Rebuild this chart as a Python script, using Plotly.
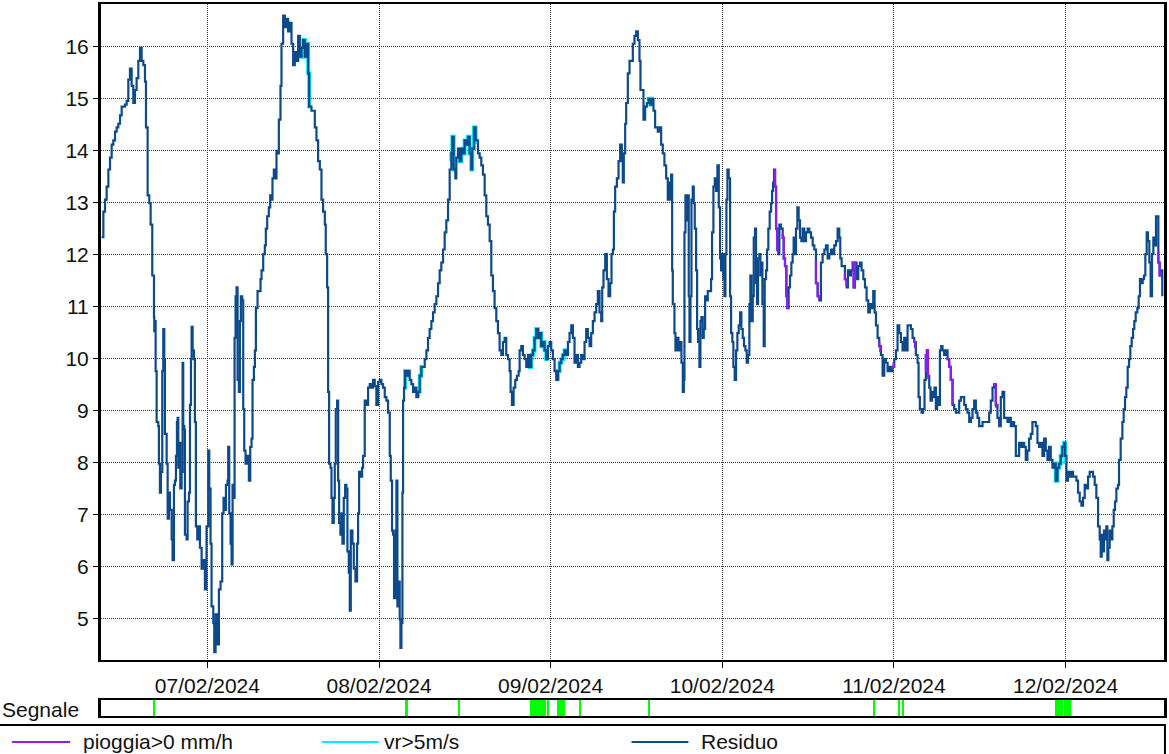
import numpy as np
import pandas as pd
import plotly.graph_objects as go

# ---- data -------------------------------------------------------------
# hours elapsed since 06/02/2024 00:00 and the "Residuo" level at that time
hours = [
    9.21, 9.45, 9.68, 9.91, 10.15, 10.38, 10.61, 10.84, 11.08, 11.31,
    11.54, 11.78, 12.01, 12.47, 12.71, 12.94, 13.17, 13.41, 13.64, 13.87,
    14.10, 14.34, 14.57, 14.80, 15.04, 15.27, 15.41, 15.64, 15.87, 16.06,
    16.29, 16.53, 16.57, 16.67, 16.76, 16.90, 17.13, 17.22, 17.36, 17.50,
    17.69, 17.83, 17.97, 18.06, 18.30, 18.44, 18.62, 18.76, 19.00, 19.13,
    19.32, 19.46, 19.60, 19.74, 19.83, 19.93, 20.07, 20.21, 20.39, 20.53,
    20.62, 20.76, 20.86, 21.09, 21.23, 21.42, 21.56, 21.70, 21.79, 21.93,
    22.11, 22.25, 22.39, 22.58, 22.72, 22.95, 23.19, 23.42, 23.65, 23.88,
    24.12, 24.26, 24.44, 24.58, 24.82, 24.96, 25.14, 25.37, 25.61, 25.84,
    26.07, 26.26, 26.45, 26.59, 26.82, 26.91, 27.05, 27.24, 27.38, 27.52,
    27.70, 27.80, 27.94, 28.08, 28.22, 28.40, 28.54, 28.68, 28.87, 29.01,
    29.15, 29.33, 29.57, 29.80, 29.99, 30.17, 30.31, 30.50, 30.64, 30.78,
    31.01, 31.24, 31.43, 31.57, 31.80, 32.03, 32.17, 32.36, 32.59, 32.78,
    32.96, 33.10, 33.29, 33.52, 33.66, 33.80, 33.99, 34.22, 34.36, 34.59,
    34.83, 35.06, 35.29, 35.53, 35.76, 35.99,
    36.22, 36.46, 36.69, 36.92, 37.16, 37.39, 37.62, 37.85, 38.09, 38.23,
    38.55, 38.79, 39.02, 39.25, 39.48, 39.72, 39.95, 40.18, 40.42, 40.55,
    40.74, 40.88, 41.02, 41.21, 41.35, 41.49, 41.67, 41.81, 41.95, 42.14,
    42.28, 42.42, 42.60, 42.74, 42.88, 43.07, 43.26, 43.44, 43.58, 43.77,
    43.91, 44.05, 44.28, 44.47, 44.70, 44.93, 45.07, 45.21, 45.40, 45.63,
    45.77, 46.00, 46.24, 46.47, 46.70, 46.93, 47.17, 47.40, 47.63, 47.87,
    48.10, 48.33, 48.56, 48.80, 49.03, 49.26, 49.50, 49.64, 49.82, 49.96,
    50.10, 50.29, 50.43, 50.57, 50.75, 50.89, 50.99, 51.13, 51.27, 51.36,
    51.50, 51.64, 51.82, 52.06, 52.29, 52.52, 52.76, 52.99, 53.22, 53.45,
    53.69, 53.92, 54.15, 54.39, 54.62, 54.85, 55.08, 55.32, 55.55, 55.78,
    56.02, 56.25, 56.48, 56.71, 56.95, 57.18, 57.41, 57.65, 57.88, 58.11,
    58.25, 58.44, 58.67, 58.81, 59.04, 59.27, 59.51, 59.74, 59.97, 60.21,
    60.44, 60.67, 60.90, 61.04, 61.28, 61.51, 61.84,
    62.07, 62.30, 62.53, 62.77, 63.00, 63.23, 63.47, 63.70, 63.93, 64.16,
    64.40, 64.63, 64.86, 65.10, 65.33, 65.56, 65.79, 66.03, 66.26, 66.40,
    66.59, 66.82, 67.05, 67.28, 67.52, 67.66, 67.89, 68.12, 68.36, 68.59,
    68.82, 69.05, 69.29, 69.52, 69.75, 69.99, 70.22, 70.45, 70.68, 70.92,
    71.15, 71.38, 71.62, 71.85, 72.08, 72.31, 72.55, 72.78, 73.01, 73.25,
    73.48, 73.71, 73.94, 74.18, 74.41, 74.64, 74.88, 75.11, 75.34, 75.57,
    75.81, 76.04, 76.27, 76.51, 76.74, 76.97, 77.20, 77.44, 77.67, 77.90,
    78.14, 78.37, 78.60, 78.83, 79.07, 79.21, 79.39, 79.63, 79.86, 80.09,
    80.32, 80.51, 80.70, 80.84, 81.02, 81.26, 81.49, 81.72, 81.95, 82.09,
    82.23, 82.42, 82.56, 82.79, 83.03, 83.26, 83.49, 83.72, 83.96, 84.19,
    84.42, 84.56, 84.80, 84.98, 85.21, 85.45, 85.68, 85.91, 86.15, 86.38,
    86.61, 86.98,
    87.22, 87.45, 87.68, 87.91, 88.15, 88.38, 88.52, 88.71, 88.85, 88.99,
    89.08, 89.31, 89.45, 89.64, 89.87, 90.10, 90.29, 90.48, 90.62, 90.71,
    90.85, 91.03, 91.17, 91.31, 91.41, 91.55, 91.69, 91.87, 92.01, 92.15,
    92.34, 92.48, 92.62, 92.80, 92.94, 93.08, 93.27, 93.41, 93.60, 93.74,
    93.97, 94.20, 94.43, 94.57, 94.76, 94.95, 95.13, 95.32, 95.51, 95.69,
    95.83, 95.97, 96.16, 96.30, 96.44, 96.58, 96.72, 96.90, 97.09, 97.23,
    97.41, 97.55, 97.74, 97.93, 98.11, 98.30, 98.49, 98.67, 98.86, 99.04,
    99.23, 99.42, 99.60, 99.79, 99.93, 100.07, 100.26, 100.40, 100.58, 100.72,
    100.86, 101.00, 101.19, 101.33, 101.47, 101.61, 101.79, 101.93, 102.12, 102.26,
    102.44, 102.63, 102.82, 102.96, 103.10, 103.24, 103.38, 103.52, 103.66, 103.84,
    103.98, 104.21, 104.45, 104.59, 104.77, 104.96, 105.10, 105.28, 105.47, 105.66,
    105.84, 105.98, 106.17, 106.31, 106.50, 106.68, 106.87, 107.06, 107.24, 107.47,
    107.71, 107.94, 108.17, 108.41, 108.64, 108.87, 109.10, 109.34, 109.57, 109.80,
    110.03, 110.27, 110.50, 110.73, 110.97, 111.20, 111.43, 111.66, 111.90, 112.13,
    112.36, 112.50, 112.69, 112.92, 113.15, 113.39, 113.57, 113.76, 113.99, 114.23,
    114.37, 114.55, 114.78, 115.02, 115.25, 115.48, 115.72, 115.95, 116.18, 116.41,
    116.65, 116.88, 117.11, 117.30, 117.49, 117.72, 117.95, 118.18, 118.42, 118.65,
    118.88, 119.12, 119.35, 119.58, 119.81, 120.05, 120.28, 120.51, 120.75, 120.98,
    121.21, 121.44, 121.68, 121.91, 122.14, 122.38, 122.61, 122.84, 123.07, 123.31,
    123.45, 123.63, 123.87, 124.10, 124.28, 124.47, 124.61, 124.75, 124.94, 125.12,
    125.31, 125.50, 125.68, 125.87, 126.05, 126.24, 126.43, 126.61, 126.80, 127.03,
    127.26, 127.50, 127.73, 127.96, 128.20, 128.43, 128.66, 128.89, 129.13, 129.36,
    129.59, 129.83, 130.06, 130.29, 130.53, 130.76, 130.99, 131.22, 131.46, 131.69,
    131.92, 132.16, 132.39, 132.62, 132.85, 133.09, 133.32, 133.55, 133.79, 134.02,
    134.25, 134.48, 134.72, 134.95, 135.18, 135.42, 135.65, 135.88, 136.11, 136.35,
    136.58, 136.81, 137.05, 137.28,
    137.51, 137.74, 137.97, 138.21, 138.44, 138.67, 138.91, 139.14, 139.37, 139.61,
    139.84, 140.07, 140.30, 140.54, 140.77, 141.00, 141.24, 141.47, 141.70, 141.93,
    142.17, 142.40, 142.63, 142.87, 143.10, 143.33, 143.56, 143.80, 143.94, 144.12,
    144.35, 144.59, 144.82, 145.05, 145.29, 145.52, 145.75, 145.98, 146.22, 146.45,
    146.68, 146.92, 147.15, 147.38, 147.61, 147.85, 148.08, 148.31, 148.55, 148.78,
    148.92, 149.06, 149.25, 149.38, 149.52, 149.71, 149.85, 149.99, 150.18, 150.36,
    150.55, 150.74, 150.92, 151.11, 151.34, 151.48, 151.71, 151.95, 152.13, 152.32,
    152.50, 152.69, 152.88, 153.06, 153.25, 153.44, 153.62, 153.81, 154.04, 154.23,
    154.41, 154.60, 154.79, 154.97, 155.16, 155.35, 155.53, 155.72, 155.90, 156.09,
    156.28, 156.46, 156.65, 156.84, 156.98, 157.16, 157.39, 157.53,
]

level = [
    12.34, 12.83, 13.06, 13.31, 13.64, 13.87, 14.12, 14.2, 14.37, 14.45,
    14.52, 14.68, 14.85, 14.89, 14.96, 15.37, 15.58, 15.25, 14.92, 15.17,
    15.4, 15.73, 15.98, 15.73, 15.65, 15.33, 14.45, 13.14, 12.99, 12.58,
    11.6, 10.8, 10.53, 10.72, 9.76, 8.78, 8.7, 7.98, 7.42, 7.82,
    9.76, 10.57, 9.99, 8.55, 7.98, 6.92, 7.42, 7.09, 6.52, 6.12,
    7.57, 7.65, 8.13, 8.78, 8.86, 7.9, 8.38, 7.5, 7.82, 9.92,
    8.7, 8.63, 6.61, 6.52, 7.25, 7.42, 9.11, 9.99, 10.61, 10.16,
    9.99, 8.78, 6.77, 6.52, 6.77, 6.36, 5.96, 6.12, 5.56, 6.77,
    8.23, 7.5, 6.44, 5.23, 4.91, 4.35, 5.08, 4.5, 5.56, 5.71,
    7.02, 7.32, 7.09, 7.57, 7.65, 8.3, 7.02, 6.44, 6.04, 7.57,
    7.32, 10.4, 11.2, 11.37, 9.59, 9.36, 10.72, 11.2, 11.12, 9.03,
    8.23, 7.98, 8.13, 7.65, 8.3, 8.46, 9.59, 9.84, 10.16, 10.97,
    11.3, 11.3, 11.53, 11.7, 12.01, 12.18, 12.5, 12.74, 12.91, 13.14,
    13.06, 13.47, 13.64, 13.47, 14.0, 13.95, 14.6, 15.25, 16.06, 16.6,
    16.38, 16.54, 16.3, 16.46, 16.06, 15.65,
    15.9, 15.73, 16.21, 15.81, 15.98, 16.13, 15.81, 16.06, 15.49, 14.85,
    14.77, 14.77, 14.45, 14.2, 13.8, 13.64, 13.06, 12.83, 12.58, 12.01,
    11.37, 9.36, 7.98, 7.9, 7.32, 6.84, 7.32, 7.98, 9.03, 9.19,
    7.65, 6.84, 6.61, 7.02, 6.44, 7.32, 7.57, 7.5, 6.29, 5.88,
    5.15, 6.69, 6.44, 5.96, 5.71, 6.44, 7.02, 7.82, 7.73, 7.9,
    8.13, 9.19, 9.11, 9.44, 9.51, 9.44, 9.59, 9.47, 9.11, 9.55,
    9.59, 9.51, 9.44, 9.26, 9.19, 8.96, 8.13, 7.65, 6.69, 6.61,
    5.39, 6.69, 7.65, 5.23, 5.71, 4.98, 4.43, 4.91, 7.42, 9.19,
    9.44, 9.76, 9.67, 9.76, 9.59, 9.51, 9.36, 9.44, 9.26, 9.36,
    9.67, 9.84, 9.84, 9.99, 10.16, 10.4, 10.57, 10.72, 10.89, 11.05,
    11.2, 11.45, 11.7, 11.85, 12.1, 12.43, 12.66, 13.06, 13.64, 13.95,
    14.27, 13.64, 13.47, 13.87, 14.04, 13.8, 14.04, 13.95, 14.2, 14.12,
    14.27, 13.95, 13.64, 14.04, 14.45, 14.2, 13.95,
    13.87, 13.72, 13.54, 13.14, 12.74, 12.58, 12.26, 11.6, 11.3, 10.97,
    10.72, 10.49, 10.16, 10.07, 10.32, 10.4, 10.07, 9.99, 9.76, 9.36,
    9.11, 9.44, 9.59, 9.67, 9.76, 10.16, 10.24, 10.07, 9.99, 9.84,
    10.07, 9.84, 10.07, 10.16, 10.4, 10.57, 10.4, 10.49, 10.24, 10.32,
    10.16, 9.99, 10.24, 10.32, 10.16, 9.99, 9.76, 9.59, 9.76, 9.92,
    9.99, 10.07, 10.16, 10.07, 10.32, 10.49, 10.64, 10.4, 9.92, 10.07,
    9.84, 9.92, 10.07, 9.99, 10.32, 10.57, 10.4, 10.24, 10.49, 10.72,
    10.89, 11.05, 11.3, 10.89, 10.72, 11.37, 11.7, 12.01, 11.53, 11.2,
    11.45, 12.01, 12.1, 12.83, 13.31, 13.47, 13.8, 14.12, 13.8, 13.39,
    13.95, 14.52, 14.92, 15.49, 15.73, 15.73, 16.06, 16.21, 16.3, 16.13,
    15.73, 15.17, 15.17, 14.6, 14.85, 14.92, 15.0, 14.89, 15.0, 14.77,
    14.45, 14.37,
    14.45, 14.12, 13.95, 13.72, 13.47, 13.06, 13.39, 13.06, 13.54, 11.7,
    11.05, 10.49, 10.16, 10.4, 10.16, 10.32, 9.92, 9.36, 9.59, 12.43,
    13.14, 12.66, 13.14, 11.2, 10.32, 11.2, 13.06, 13.31, 12.99, 12.5,
    11.7, 10.57, 10.32, 9.84, 10.72, 10.8, 10.4, 10.57, 11.2, 11.12,
    11.3, 11.3, 11.53, 12.43, 13.31, 13.47, 13.23, 13.72, 12.91, 11.93,
    11.7, 12.01, 11.53, 11.2, 12.01, 13.06, 13.64, 13.47, 11.2, 10.49,
    10.32, 9.84, 9.59, 10.16, 10.49, 10.64, 10.89, 10.57, 10.4, 10.24,
    10.16, 9.92, 10.07, 11.05, 11.6, 10.72, 11.2, 12.33, 12.5, 11.45,
    11.05, 11.93, 12.01, 11.6, 11.85, 11.05, 10.24, 11.53, 11.7, 12.1,
    12.5, 12.83, 12.99, 13.23, 13.39, 13.64, 13.31, 12.5, 12.1, 12.01,
    12.58, 12.5, 12.33, 11.93, 11.78, 11.2, 10.97, 11.37, 11.6, 11.85,
    12.01, 12.33, 12.01, 12.5, 12.91, 12.66, 12.33, 12.26, 12.5, 12.26,
    12.43, 12.5, 12.43, 12.33, 12.18, 12.1, 11.45, 11.2, 11.12, 11.85,
    12.01, 12.1, 12.18, 11.93, 12.01, 12.1, 12.01, 12.18, 12.26, 12.5,
    12.33, 11.93, 11.78, 11.78, 11.53, 11.37, 11.7, 11.6, 11.7, 11.85,
    11.37, 11.85, 11.53, 11.78, 11.85, 11.7, 11.53, 11.37, 11.12, 10.89,
    11.05, 10.97, 11.3, 10.89, 10.64, 10.4, 10.24, 10.07, 9.67, 9.99,
    9.92, 9.76, 9.84, 9.76, 9.84, 9.99, 10.16, 10.64, 10.49, 10.32,
    10.16, 10.4, 10.16, 10.64, 10.64, 10.57, 10.4, 10.32, 10.07, 9.92,
    9.26, 9.03, 8.96, 9.03, 9.59, 10.07, 10.16, 9.67, 9.44, 9.19,
    9.36, 9.26, 9.44, 9.03, 9.26, 9.11, 10.16, 10.24, 10.16, 10.07,
    10.16, 9.99, 9.84, 9.59, 9.11, 9.03, 8.96, 8.96, 9.19, 9.26,
    9.26, 9.11, 9.03, 8.96, 8.78, 8.86, 9.03, 9.19, 8.96, 8.86,
    8.7, 8.7, 8.78, 8.78, 8.78, 8.78, 8.96, 9.19, 9.44, 9.51,
    9.11, 8.86, 8.7, 9.26, 9.36, 8.86, 8.86, 8.78, 8.86, 8.7,
    8.78, 8.7, 8.13, 8.13,
    8.38, 8.3, 8.38, 8.3, 8.05, 8.23, 8.46, 8.55, 8.78, 8.78,
    8.7, 8.38, 8.3, 8.38, 8.13, 8.46, 8.23, 8.05, 8.3, 8.05,
    7.9, 7.98, 7.65, 7.9, 7.98, 8.13, 8.3, 8.38, 8.13, 7.65,
    7.82, 7.73, 7.82, 7.73, 7.73, 7.65, 7.42, 7.25, 7.17, 7.32,
    7.57, 7.5, 7.73, 7.82, 7.82, 7.73, 7.57, 7.32, 6.77, 6.52,
    6.19, 6.61, 6.29, 6.69, 6.52, 6.77, 6.12, 6.36, 6.69, 6.52,
    6.77, 7.09, 7.25, 7.5, 7.57, 8.05, 8.46, 8.78, 9.03, 9.26,
    9.44, 9.84, 9.99, 10.24, 10.4, 10.57, 10.72, 10.89, 10.97, 11.2,
    11.53, 11.45, 11.53, 11.6, 12.01, 12.43, 12.26, 11.85, 11.2, 12.01,
    12.33, 12.18, 12.74, 12.74, 11.85, 11.6, 11.7, 11.2,
]

# intervals (hours since 06/02 00:00) flagged as rain > 0 mm/h
rain_periods = [
    (103.25, 103.75), (104.35, 105.15), (108.95, 109.55), (113.05, 113.35),
    (114.2, 114.6), (117.85, 118.1), (119.75, 119.95), (122.75, 122.95),
    (124.35, 124.8), (127.45, 128.2), (133.95, 134.3), (156.95, 157.3),
]

# intervals flagged as wind speed > 5 m/s
wind_periods = [
    (36.9, 38.3), (51.5, 52.1), (53.3, 54.1), (58.0, 58.5), (59.2, 61.6),
    (69.0, 71.4), (72.8, 74.0), (85.6, 86.2), (142.2, 144.0),
]

# "Segnale" strip: flagged intervals
signal_periods = [
    (16.45, 16.6), (51.8, 51.95), (59.2, 59.35), (69.05, 71.36),
    (71.65, 71.78), (72.83, 73.95), (76.06, 76.2), (85.75, 85.9),
    (117.18, 117.32), (120.67, 120.8), (121.22, 121.36),
    (142.48, 143.63), (143.8, 144.73),
]

x_start_h, x_end_h = 9.12, 157.77
y_range = [4.196, 16.825]

day_ticks = ["2024-02-07", "2024-02-08", "2024-02-09",
             "2024-02-10", "2024-02-11", "2024-02-12"]

# ---- helpers ----------------------------------------------------------
BASE = pd.Timestamp("2024-02-06 00:00")


def to_time(h):
    return BASE + pd.Timedelta(hours=float(h))


def overlay(periods):
    """Pieces of the level series restricted to the given intervals."""
    xs, ys = [], []
    for a, b in periods:
        seg = [a] + [h for h in hours if a < h < b] + [b]
        vals = np.interp(seg, hours, level)
        xs += [to_time(h) for h in seg] + [None]
        ys += list(vals) + [None]
    return xs, ys


RESIDUO_COLOR = "#0d4a8c"
RAIN_COLOR = "#8c1cf0"
WIND_COLOR = "#00f0ff"
SIGNAL_COLOR = "#00ff00"
GRID_COLOR = "#3a3a3a"
FONT = "Liberation Sans, Arial, sans-serif"

times = [to_time(h) for h in hours]

fig = go.Figure()

wx, wy = overlay(wind_periods)
rx, ry = overlay(rain_periods)

fig.add_trace(go.Scatter(x=wx, y=wy, mode="lines", name="vr>5m/s",
                         line=dict(color=WIND_COLOR, width=4, shape="hv"),
                         showlegend=False, hoverinfo="skip"))
fig.add_trace(go.Scatter(x=times, y=level, mode="lines", name="Residuo",
                         line=dict(color=RESIDUO_COLOR, width=2.2, shape="hv"),
                         showlegend=False))
fig.add_trace(go.Scatter(x=rx, y=ry, mode="lines", name="pioggia>0 mm/h",
                         line=dict(color=RAIN_COLOR, width=2.2, shape="hv"),
                         showlegend=False, hoverinfo="skip"))

# flag strip
fig.add_trace(go.Bar(
    x=[to_time((a + b) / 2) for a, b in signal_periods],
    y=[1] * len(signal_periods),
    width=[max(b - a, 0.22) * 3600 * 1000 for a, b in signal_periods],
    base=0, marker=dict(color=SIGNAL_COLOR, line=dict(width=0)),
    xaxis="x2", yaxis="y2", showlegend=False, hoverinfo="skip",
))

x_range = [to_time(x_start_h), to_time(x_end_h)]

fig.update_layout(
    width=1169, height=754,
    margin=dict(l=101, r=4, t=2, b=38),
    paper_bgcolor="white", plot_bgcolor="white",
    font=dict(family=FONT, size=21, color="#111111"),
    bargap=0,
    xaxis=dict(
        domain=[0, 1], anchor="y", type="date", range=x_range,
        tickmode="array", tickvals=day_ticks, tickformat="%d/%m/%Y",
        ticks="outside", ticklen=6, tickwidth=1, tickcolor="black",
        showgrid=True, gridcolor=GRID_COLOR, griddash="1px,1px", gridwidth=1,
        showline=True, linecolor="black", linewidth=2, mirror=True,
        zeroline=False,
    ),
    yaxis=dict(
        domain=[0.0784, 1], anchor="x", range=y_range,
        tickmode="linear", tick0=0, dtick=1,
        ticks="outside", ticklen=5, tickwidth=1, tickcolor="black",
        showgrid=True, gridcolor=GRID_COLOR, griddash="1px,1px", gridwidth=1,
        showline=True, linecolor="black", linewidth=3, mirror=True,
        zeroline=False,
    ),
    xaxis2=dict(
        domain=[0, 1], anchor="y2", type="date", range=x_range,
        matches="x", showticklabels=False, ticks="", showgrid=False,
        showline=True, linecolor="black", linewidth=2, mirror=True,
        zeroline=False,
    ),
    yaxis2=dict(
        domain=[0, 0.0224], anchor="x2", range=[0, 1],
        showticklabels=False, ticks="", showgrid=False,
        showline=True, linecolor="black", linewidth=3, mirror=True,
        zeroline=False,
    ),
)

# strip title
fig.add_annotation(text="Segnale", xref="paper", yref="paper",
                   x=-0.095, y=0.0098, xanchor="left", yanchor="middle",
                   showarrow=False, font=dict(size=21, color="#111111"))

# legend box with line samples
fig.add_shape(type="rect", xref="paper", yref="paper",
              x0=-0.097, x1=1.0009, y0=-0.0126, y1=-0.056,
              line=dict(color="black", width=2), fillcolor="white",
              layer="below")

legend_items = [
    ("pioggia>0 mm/h", RAIN_COLOR, -0.0836, -0.0291, -0.0185),
    ("vr>5m/s", WIND_COLOR, 0.2077, 0.2613, 0.2640),
    ("Residuo", RESIDUO_COLOR, 0.4991, 0.5526, 0.5630),
]
for label, color, lx0, lx1, tx in legend_items:
    fig.add_shape(type="line", xref="paper", yref="paper",
                  x0=lx0, x1=lx1, y0=-0.0364, y1=-0.0364,
                  line=dict(color=color, width=2))
    fig.add_annotation(text=label, xref="paper", yref="paper",
                       x=tx, y=-0.0364, xanchor="left", yanchor="middle",
                       showarrow=False, font=dict(size=21, color="#111111"))

fig.write_html("out.html")
